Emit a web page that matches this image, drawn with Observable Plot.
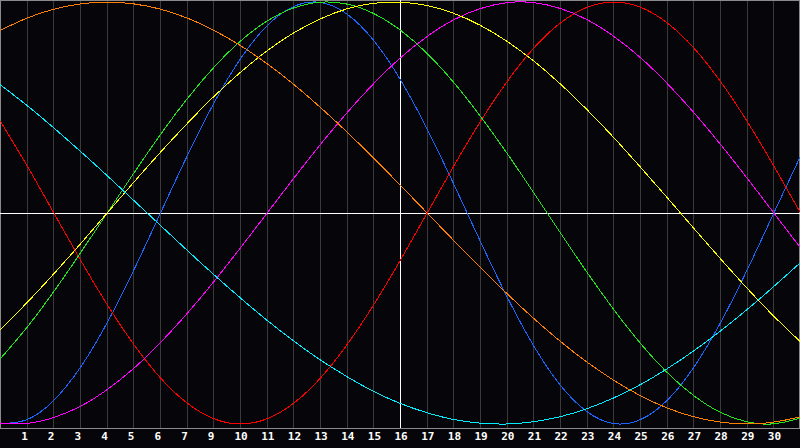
<!DOCTYPE html>
<html>
<head>
<meta charset="utf-8">
<script src="https://cdn.jsdelivr.net/npm/d3@7"></script>
<script src="https://cdn.jsdelivr.net/npm/@observablehq/plot@0.6"></script>
<style>
  html, body { margin: 0; padding: 0; background: #060509; }
  #chart svg { display: block; }
</style>
</head>
<body>
<div id="chart"></div>
<script>
// Day index (grid line positions)
const days = [0,1,2,3,4,5,6,7,8,9,10,11,12,13,14,15,16,17,18,19,20,21,22,23,24,25,26,27,28,29,30];

// Tick positions and their labels (the "8" is absent in the reference)
const tickPositions = [1,2,3,4,5,6,7,8,9,10,11,12,13,14,15,16,17,18,19,20,21,22,23,24,25,26,27,28,29];
const tickLabels = ["1","2","3","4","5","6","7","9","10","11","12","13","14","15","16","17","18","19","20","21","22","23","24","25","26","27","28","29","30"];

// Series values (-1 .. 1), one per day
const physical = [-0.998,-0.979,-0.888,-0.731,-0.520,-0.270,0,0.270,0.520,0.731,0.888,0.979,0.998,0.942,0.817,0.631,0.398,0.136,-0.136,-0.398,-0.631,-0.817,-0.942,-0.998,-0.979,-0.888,-0.731,-0.520,-0.270,0,0.270];
const emotional = [0.434,0.223,0,-0.223,-0.434,-0.623,-0.782,-0.901,-0.975,-1,-0.975,-0.901,-0.782,-0.623,-0.434,-0.223,0,0.223,0.434,0.623,0.782,0.901,0.975,1,0.975,0.901,0.782,0.623,0.434,0.223,0];
const intellectual = [-0.690,-0.541,-0.372,-0.189,0,0.189,0.372,0.541,0.690,0.815,0.910,0.972,0.999,0.990,0.945,0.866,0.756,0.618,0.458,0.282,0.095,-0.095,-0.282,-0.458,-0.618,-0.756,-0.866,-0.945,-0.990,-0.999,-0.972];
const intuitive = [-0.997,-0.997,-0.969,-0.916,-0.837,-0.736,-0.614,-0.476,-0.325,-0.165,0,0.165,0.325,0.476,0.614,0.736,0.837,0.916,0.969,0.997,0.997,0.969,0.916,0.837,0.736,0.614,0.476,0.325,0.165,0,-0.165];
const aesthetic = [-0.552,-0.424,-0.288,-0.146,0,0.146,0.288,0.424,0.552,0.667,0.769,0.854,0.920,0.968,0.994,0.999,0.983,0.946,0.889,0.813,0.720,0.611,0.489,0.357,0.217,0.073,-0.073,-0.217,-0.357,-0.489,-0.611];
const awareness = [0.866,0.924,0.966,0.991,1,0.991,0.966,0.924,0.866,0.793,0.707,0.609,0.5,0.383,0.259,0.131,0,-0.131,-0.259,-0.383,-0.5,-0.609,-0.707,-0.793,-0.866,-0.924,-0.966,-0.991,-1,-0.991,-0.966];
const spiritual = [0.607,0.509,0.403,0.292,0.177,0.059,-0.059,-0.177,-0.292,-0.403,-0.509,-0.607,-0.697,-0.776,-0.846,-0.903,-0.947,-0.979,-0.996,-1.000,-0.989,-0.965,-0.927,-0.876,-0.813,-0.738,-0.653,-0.559,-0.457,-0.348,-0.235];

const seriesNames = ["physical","emotional","intellectual","intuitive","aesthetic","awareness","spiritual"];
const seriesValues = [physical, emotional, intellectual, intuitive, aesthetic, awareness, spiritual];
const seriesColors = ["#1a66ff","#ff0000","#22e61e","#ff00ff","#ffff00","#ff8000","#00eeff"];

const rows = seriesNames.flatMap((name, s) =>
  days.map((d, i) => ({series: name, day: d, value: seriesValues[s][i]}))
);

const gridDays = tickPositions.filter(d => d !== 15);

const chart = Plot.plot({
  width: 800,
  height: 448,
  marginLeft: 0,
  marginRight: 0,
  marginTop: 0,
  marginBottom: 20,
  style: {background: "#060509", shapeRendering: "crispEdges"},
  x: {domain: [0, 30], axis: null},
  y: {domain: [-1.02133, 1.00711], axis: null},
  color: {domain: seriesNames, range: seriesColors},
  marks: [
    Plot.ruleX(gridDays, {stroke: "#3a3a3a", strokeWidth: 1}),
    Plot.frame({stroke: "#8a8a8a"}),
    Plot.ruleX([30], {stroke: "#8a8a8a", dx: -1}),
    Plot.ruleX([15], {stroke: "#ffffff", strokeWidth: 1}),
    Plot.ruleY([0], {stroke: "#ffffff", strokeWidth: 1, dy: 1}),
    Plot.line(rows, {x: "day", y: "value", z: "series", stroke: "series", strokeWidth: 1, curve: "natural"}),
    Plot.text(tickPositions, {
      x: d => d,
      text: (d, i) => tickLabels[i],
      frameAnchor: "bottom",
      dy: 11,
      dx: -6,
      textAnchor: "start",
      fill: "#ffffff",
      fontFamily: "DejaVu Sans Mono",
      fontWeight: "bold",
      fontSize: 11
    })
  ]
});

document.getElementById("chart").appendChild(chart);
</script>
</body>
</html>
